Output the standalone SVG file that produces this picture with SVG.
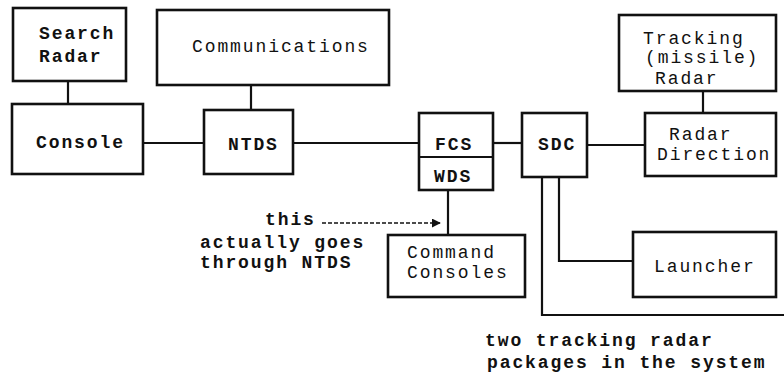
<svg xmlns="http://www.w3.org/2000/svg" width="784" height="375" viewBox="0 0 784 375">
  <defs>
    <style>
      .box { fill: #ffffff; stroke: #111111; stroke-width: 2.6; }
      .wire { fill: none; stroke: #111111; stroke-width: 2.2; }
      .note { fill: none; stroke: #111111; stroke-width: 1.6; stroke-dasharray: 4 2; }
      text { font-family: "Liberation Mono", "DejaVu Sans Mono", monospace; font-size: 18px; letter-spacing: 1.9px; fill: #111111; }
      .b { font-weight: bold; }
    </style>
    <marker id="arrow" viewBox="0 0 10 10" refX="9" refY="5" markerWidth="9" markerHeight="9" markerUnits="userSpaceOnUse" orient="auto">
      <path d="M0,0 L10,5 L0,10 Z" fill="#111111"/>
    </marker>
  </defs>

  <rect width="784" height="375" fill="#ffffff"/>

  <!-- connectors -->
  <g id="connectors">
    <line class="wire" x1="68" y1="81" x2="68" y2="104"/>
    <line class="wire" x1="251" y1="85" x2="251" y2="110"/>
    <line class="wire" x1="143" y1="143" x2="204" y2="143"/>
    <line class="wire" x1="293" y1="143" x2="419" y2="143"/>
    <line class="wire" x1="493" y1="143" x2="522" y2="143"/>
    <line class="wire" x1="587" y1="145" x2="645" y2="145"/>
    <line class="wire" x1="703" y1="91" x2="703" y2="113"/>
    <line class="wire" x1="448" y1="190" x2="448" y2="235"/>
    <polyline class="wire" points="559,177 559,261 633,261"/>
    <polyline class="wire" points="542,177 542,315 784,315"/>
    <line class="note" x1="322" y1="223" x2="440" y2="223" marker-end="url(#arrow)"/>
  </g>

  <!-- nodes -->
  <g id="search-radar">
    <rect class="box" x="13" y="8" width="113" height="73"/>
    <text class="b" x="39" y="39">Search</text>
    <text class="b" x="39" y="62">Radar</text>
  </g>
  <g id="console">
    <rect class="box" x="12" y="104" width="131" height="70"/>
    <text class="b" x="36" y="148">Console</text>
  </g>
  <g id="communications">
    <rect class="box" x="157" y="10" width="232" height="75"/>
    <text x="192" y="52">Communications</text>
  </g>
  <g id="ntds">
    <rect class="box" x="204" y="110" width="89" height="64"/>
    <text class="b" x="228" y="150">NTDS</text>
  </g>
  <g id="fcs-wds">
    <rect class="box" x="419" y="113" width="74" height="77"/>
    <line class="wire" x1="419" y1="157" x2="493" y2="157"/>
    <text class="b" x="435" y="150">FCS</text>
    <text class="b" x="434" y="182">WDS</text>
  </g>
  <g id="sdc">
    <rect class="box" x="522" y="113" width="65" height="64"/>
    <text class="b" x="538" y="150">SDC</text>
  </g>
  <g id="tracking-radar">
    <rect class="box" x="619" y="15" width="157" height="76"/>
    <text x="643" y="44">Tracking</text>
    <text x="645" y="63">(missile)</text>
    <text x="655" y="84">Radar</text>
  </g>
  <g id="radar-direction">
    <rect class="box" x="645" y="113" width="131" height="63"/>
    <text x="669" y="140">Radar</text>
    <text x="657" y="160">Direction</text>
  </g>
  <g id="command-consoles">
    <rect class="box" x="388" y="235" width="137" height="62"/>
    <text x="407" y="258">Command</text>
    <text x="407" y="278">Consoles</text>
  </g>
  <g id="launcher">
    <rect class="box" x="633" y="232" width="143" height="65"/>
    <text x="654" y="272">Launcher</text>
  </g>

  <!-- annotations -->
  <g id="notes">
    <text class="b" x="265" y="225">this</text>
    <text class="b" x="200" y="248">actually goes</text>
    <text class="b" x="200" y="268">through NTDS</text>
    <text class="b" x="485" y="346">two tracking radar</text>
    <text class="b" x="487" y="368">packages in the system</text>
  </g>
</svg>
